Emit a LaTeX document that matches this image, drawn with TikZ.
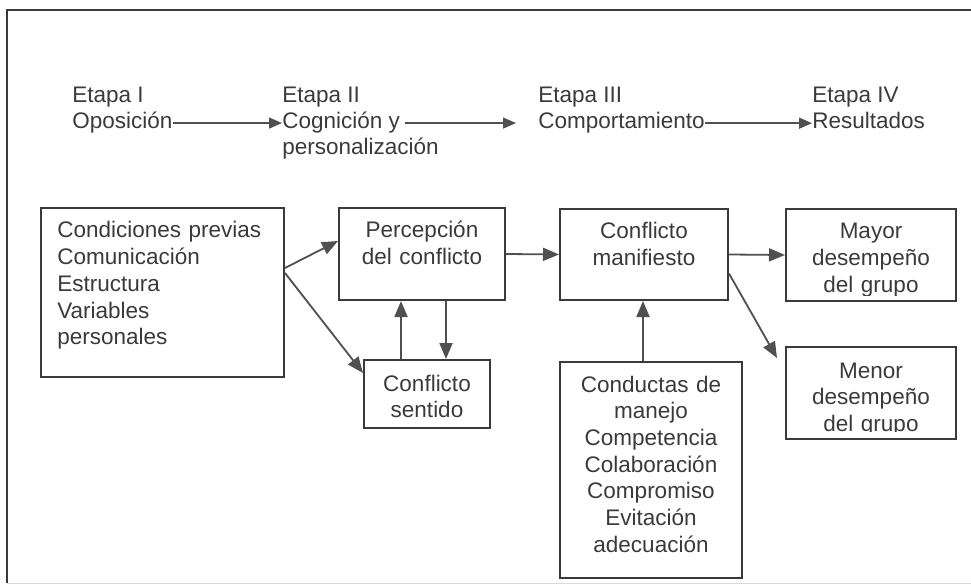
\documentclass[tikz,border=0pt]{standalone}
\usepackage{fontspec}
\setmainfont{Liberation Sans}
\usepackage{xcolor}
\usetikzlibrary{arrows.meta}
\usetikzlibrary{calc}
\usetikzlibrary{positioning}
\definecolor{inkgray}{HTML}{3A3A3A}
\definecolor{flowgray}{HTML}{505050}

\begin{document}
\begin{tikzpicture}[x=1pt,y=-1pt,semithick]
	\tikzstyle{frame}=[draw=inkgray, line width=2pt]
	\tikzstyle{box}=[draw=inkgray, line width=2pt, anchor=north west, inner sep=0pt]
	\tikzstyle{lbl}=[text=inkgray, inner sep=0pt, font=\fontsize{22.5}{26.7}\selectfont]
	\tikzstyle{boxtxt}=[lbl, anchor=base, align=center]
	\tikzstyle{flow}=[-{Triangle[length=16pt,width=13pt]}, color=flowgray, line width=1.8pt]
	\tikzstyle{stageflow}=[-{Triangle[length=13pt,width=11pt]}, color=flowgray, line width=1.4pt]
	\useasboundingbox (0,0) rectangle (971,585);
	% marco
	\draw[frame] (971,10) -- (7,10) -- (7,583);
	\draw[draw=black!15, line width=1pt] (7,583) -- (971,583);
	% etapas
	\node[lbl, anchor=base west] (etapa1) at (72,103) {Etapa I};
	\node[lbl, anchor=base west] (opos)   at (72,129) {Oposición};
	\node[lbl, anchor=base west] (etapa2) at (282,103) {Etapa II};
	\node[lbl, anchor=base west] (cogn)   at (282,129) {Cognición y};
	\node[lbl, anchor=base west] (pers)   at (282,155) {personalización};
	\node[lbl, anchor=base west] (etapa3) at (538,103) {Etapa III};
	\node[lbl, anchor=base west] (comp)   at (538,129) {Comportamiento};
	\node[lbl, anchor=base west] (etapa4) at (812,103) {Etapa IV};
	\node[lbl, anchor=base west] (result) at (812,129) {Resultados};
	\path[stageflow]
		(opos.east) edge (opos.east -| cogn.west)
		(cogn.east) edge[shorten <=5pt, shorten >=22pt] (cogn.east -| comp.west)
		(comp.east) edge (comp.east -| result.west);
	% cajas
	\node[box, minimum width=243pt, minimum height=169pt] (prev)   at (40,207)  {};
	\node[box, minimum width=166pt, minimum height=92pt]  (perc)   at (338,207) {};
	\node[box, minimum width=126pt, minimum height=68pt]  (sent)   at (363,359) {};
	\node[box, minimum width=168pt, minimum height=91pt]  (mani)   at (559,208) {};
	\node[box, minimum width=170pt, minimum height=92pt]  (mayor)  at (785,208) {};
	\node[box, minimum width=170pt, minimum height=92pt]  (menor)  at (785,346) {};
	\node[box, minimum width=182pt, minimum height=216pt] (manejo) at (559,361) {};
	% textos
	\node[lbl, anchor=base west, align=left, text width=220pt] (prevT) at ($(prev.north west)+(17,31)$)
		{Condiciones previas\\Comunicación\\Estructura\\Variables\\personales};
	\node[boxtxt, text width=150pt] (percT) at ($(perc.north)+(0,31)$) {Percepción\\del conflicto};
	\node[boxtxt, text width=110pt] (sentT) at ($(sent.north)+(0,32)$) {Conflicto\\sentido};
	\node[boxtxt, text width=150pt] (maniT) at ($(mani.north)+(0,31)$) {Conflicto\\manifiesto};
	\node[boxtxt, text width=170pt] (manejoT) at ($(manejo.north)+(0,31)$)
		{Conductas de\\manejo\\Competencia\\Colaboración\\Compromiso\\Evitación\\adecuación};
	\begin{scope}
		\clip (mayor.north west) rectangle ($(mayor.south east)+(0,-7)$);
		\node[boxtxt, text width=150pt] (mayorT) at ($(mayor.north)+(0,31)$) {Mayor\\desempeño\\del grupo};
	\end{scope}
	\begin{scope}
		\clip (menor.north west) rectangle ($(menor.south east)+(0,-9)$);
		\node[boxtxt, text width=150pt] (menorT) at ($(menor.north)+(0,32)$) {Menor\\desempeño\\del grupo};
	\end{scope}
	% flechas
	\path[flow]
		($(prev.north east)+(0,61)$) edge ([yshift=13pt]perc.west)
		($(prev.north east)+(0,66)$) edge ([yshift=21pt]sent.west)
		([xshift=-26pt]sent.north) edge ([xshift=-26pt]sent.north |- perc.south)
		([xshift=19pt]sent.north |- perc.south) edge ([xshift=19pt]sent.north)
		(perc.east) edge (mani.west)
		(mani.east) edge (mayor.west)
		([yshift=-19pt]mani.east) edge ($(menor.north west)+(-8,12)$)
		([xshift=-8pt]manejo.north) edge ([xshift=-8pt]manejo.north |- mani.south);
\end{tikzpicture}
\end{document}
